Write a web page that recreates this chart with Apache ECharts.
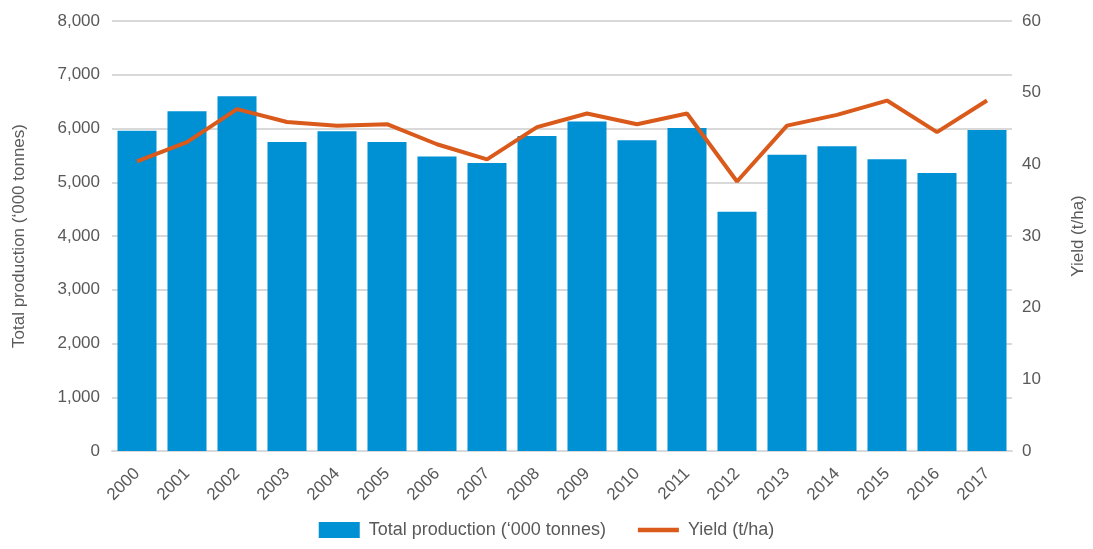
<!DOCTYPE html>
<html>
<head>
<meta charset="utf-8">
<script src="https://cdn.jsdelivr.net/npm/echarts@6/dist/echarts.min.js"></script>
<style>
  html, body { margin: 0; padding: 0; background: #fff; }
  #chart { width: 1093px; height: 549px; }
</style>
</head>
<body>
<div id="chart"></div>
<script>
var years = ['2000', '2001', '2002', '2003', '2004', '2005', '2006', '2007', '2008',
  '2009', '2010', '2011', '2012', '2013', '2014', '2015', '2016', '2017'];
// total production, '000 tonnes
var production = [5960, 6320, 6600, 5750, 5950, 5750, 5480, 5360, 5860,
  6130, 5780, 6010, 4450, 5510, 5670, 5430, 5170, 5970];
// yield, t/ha
var yieldData = [40.4, 43.1, 47.7, 45.9, 45.4, 45.6, 42.8, 40.7, 45.2,
  47.1, 45.6, 47.1, 37.6, 45.4, 46.9, 48.9, 44.5, 48.9];
var leftTicks = { min: 0, max: 8000, interval: 1000 };
var rightTicks = { min: 0, max: 60, interval: 10 };

var txt = '#595959';
var font = 'Liberation Sans';
var fs = 17;
var myChart = echarts.init(document.getElementById('chart'));
var option = {
  animation: false,
  textStyle: { fontFamily: font, color: txt },
  grid: { left: 112, right: 81, top: 21, bottom: 98, outerBoundsMode: 'none' },
  legend: {
    bottom: 5,
    left: 'center',
    itemGap: 32,
    itemWidth: 41,
    itemHeight: 16,
    textStyle: { fontFamily: font, fontSize: 18, color: txt, padding: [0, 0, 0, 4] },
    data: [
      { name: 'Total production (\u2018000 tonnes)', icon: 'rect' },
      { name: 'Yield (t/ha)', icon: 'path://M0,0H36V4H0Z' }
    ]
  },
  xAxis: {
    type: 'category',
    data: years,
    axisLine: { show: true, lineStyle: { color: '#d9d9d9', width: 2 } },
    axisTick: { show: false },
    axisLabel: { rotate: 45, fontSize: fs, color: txt, fontFamily: font, margin: 20 }
  },
  yAxis: [{
    type: 'value',
    min: leftTicks.min, max: leftTicks.max, interval: leftTicks.interval,
    name: 'Total production (\u2018000 tonnes)',
    nameLocation: 'middle',
    nameRotate: 90,
    nameGap: 84,
    nameTextStyle: { fontSize: fs, color: txt, fontFamily: font },
    axisLabel: {
      fontSize: fs, color: txt, fontFamily: font, margin: 12,
      formatter: function (v) { return v.toLocaleString('en-US'); }
    },
    splitLine: { lineStyle: { color: '#d9d9d9', width: 2 } }
  }, {
    type: 'value',
    position: 'right',
    min: rightTicks.min, max: rightTicks.max, interval: rightTicks.interval,
    name: 'Yield (t/ha)',
    nameLocation: 'middle',
    nameRotate: 90,
    nameGap: 58,
    nameTextStyle: { fontSize: fs, color: txt, fontFamily: font },
    axisLabel: { fontSize: fs, color: txt, fontFamily: font, margin: 10 },
    splitLine: { show: false }
  }],
  series: [{
    name: 'Total production (\u2018000 tonnes)',
    type: 'bar',
    data: production,
    barCategoryGap: '22%',
    itemStyle: { color: '#0090d4' }
  }, {
    name: 'Yield (t/ha)',
    type: 'line',
    yAxisIndex: 1,
    data: yieldData,
    symbol: 'none',
    lineStyle: { color: '#d95a1a', width: 4 },
    itemStyle: { color: '#d95a1a' }
  }]
};
myChart.setOption(option);
window.addEventListener('resize', function () {
  myChart.resize();
});
</script>
</body>
</html>
